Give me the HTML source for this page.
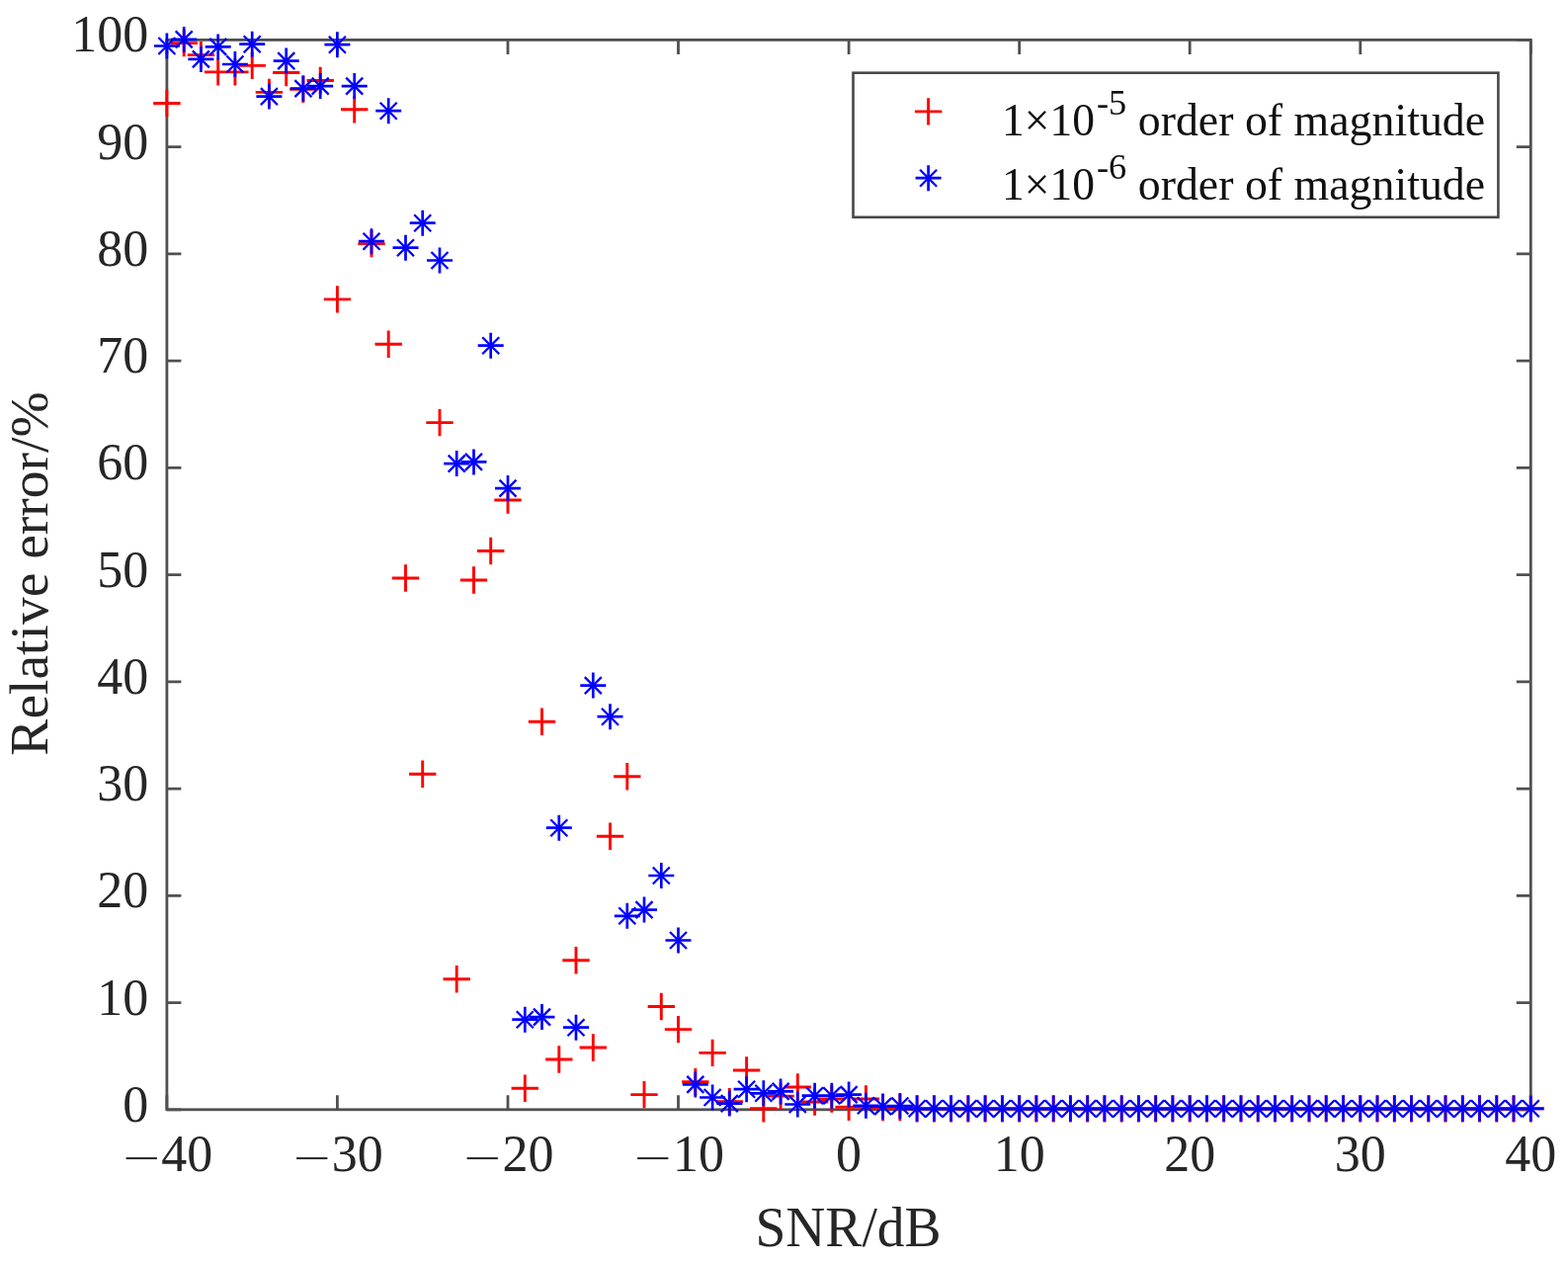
<!DOCTYPE html>
<html><head><meta charset="utf-8"><title>Relative error vs SNR</title>
<style>html,body{margin:0;padding:0;background:#fff;}svg{display:block;filter:blur(0.4px);}</style>
</head><body>
<svg width="1587" height="1277" viewBox="0 0 1587 1277">
<rect width="1587" height="1277" fill="#fff"/>
<path d="M168.9 1122.8V1108.3M168.9 40.4V54.9M341.4 1122.8V1108.3M341.4 40.4V54.9M514.0 1122.8V1108.3M514.0 40.4V54.9M686.5 1122.8V1108.3M686.5 40.4V54.9M859.1 1122.8V1108.3M859.1 40.4V54.9M1031.7 1122.8V1108.3M1031.7 40.4V54.9M1204.2 1122.8V1108.3M1204.2 40.4V54.9M1376.8 1122.8V1108.3M1376.8 40.4V54.9M1549.3 1122.8V1108.3M1549.3 40.4V54.9M168.9 1122.8H183.4M1549.3 1122.8H1534.8M168.9 1014.6H183.4M1549.3 1014.6H1534.8M168.9 906.3H183.4M1549.3 906.3H1534.8M168.9 798.1H183.4M1549.3 798.1H1534.8M168.9 689.8H183.4M1549.3 689.8H1534.8M168.9 581.6H183.4M1549.3 581.6H1534.8M168.9 473.4H183.4M1549.3 473.4H1534.8M168.9 365.1H183.4M1549.3 365.1H1534.8M168.9 256.9H183.4M1549.3 256.9H1534.8M168.9 148.6H183.4M1549.3 148.6H1534.8M168.9 40.4H183.4M1549.3 40.4H1534.8" stroke="#505050" stroke-width="2.8" fill="none"/>
<rect x="168.9" y="40.4" width="1380.4" height="1082.4" stroke="#505050" stroke-width="2.8" fill="none"/>
<g font-family="Liberation Serif, serif" font-size="52" fill="#262626"><text x="150.3" y="1134.8" text-anchor="end">0</text><text x="150.3" y="1026.6" text-anchor="end">10</text><text x="150.3" y="918.3" text-anchor="end">20</text><text x="150.3" y="810.1" text-anchor="end">30</text><text x="150.3" y="701.8" text-anchor="end">40</text><text x="150.3" y="593.6" text-anchor="end">50</text><text x="150.3" y="485.4" text-anchor="end">60</text><text x="150.3" y="377.1" text-anchor="end">70</text><text x="150.3" y="268.9" text-anchor="end">80</text><text x="150.3" y="160.6" text-anchor="end">90</text><text x="150.3" y="52.4" text-anchor="end">100</text><text x="168.9" y="1185" text-anchor="middle"><tspan font-family="DejaVu Sans, sans-serif" font-weight="200" font-size="50" dy="3.4">&#8722;</tspan><tspan dx="-1" dy="-3.4">40</tspan></text><text x="341.4" y="1185" text-anchor="middle"><tspan font-family="DejaVu Sans, sans-serif" font-weight="200" font-size="50" dy="3.4">&#8722;</tspan><tspan dx="-1" dy="-3.4">30</tspan></text><text x="514.0" y="1185" text-anchor="middle"><tspan font-family="DejaVu Sans, sans-serif" font-weight="200" font-size="50" dy="3.4">&#8722;</tspan><tspan dx="-1" dy="-3.4">20</tspan></text><text x="686.5" y="1185" text-anchor="middle"><tspan font-family="DejaVu Sans, sans-serif" font-weight="200" font-size="50" dy="3.4">&#8722;</tspan><tspan dx="-1" dy="-3.4">10</tspan></text><text x="859.1" y="1185" text-anchor="middle">0</text><text x="1031.7" y="1185" text-anchor="middle">10</text><text x="1204.2" y="1185" text-anchor="middle">20</text><text x="1376.8" y="1185" text-anchor="middle">30</text><text x="1549.3" y="1185" text-anchor="middle">40</text></g>
<text transform="translate(858.5 1260.8) scale(1 1.035)" text-anchor="middle" font-family="Liberation Serif, serif" font-size="55.5" fill="#262626">SNR/dB</text>
<text transform="translate(48.2 580.5) rotate(-90)" text-anchor="middle" font-family="Liberation Serif, serif" font-size="55.5" fill="#262626">Relative error/%</text>
<path d="M155.2 104.5H182.6M168.9 90.8V118.2M172.5 43.6H199.9M186.2 29.9V57.3M189.7 55.6H217.1M203.4 41.9V69.3M207.0 72.9H234.4M220.7 59.2V86.6M224.2 72.9H251.6M237.9 59.2V86.6M241.5 66.4H268.9M255.2 52.7V80.1M258.7 93.4H286.1M272.4 79.7V107.1M276.0 73.5H303.4M289.7 59.8V87.2M293.2 90.2H320.6M306.9 76.5V103.9M310.5 81.5H337.9M324.2 67.8V95.2M327.8 302.9H355.1M341.4 289.2V316.6M345.0 110.8H372.4M358.7 97.1V124.5M362.3 246.6H389.7M376.0 232.9V260.3M379.5 348.2H406.9M393.2 334.5V361.9M396.8 585.0H424.2M410.5 571.3V598.7M414.0 783.3H441.4M427.7 769.6V797.0M431.3 427.6H458.7M445.0 413.9V441.3M448.5 990.7H475.9M462.2 977.0V1004.4M465.8 587.0H493.2M479.5 573.3V600.7M483.0 557.5H510.4M496.7 543.8V571.2M500.3 506.0H527.7M514.0 492.3V519.7M517.6 1101.3H545.0M531.3 1087.6V1115.0M534.8 730.3H562.2M548.5 716.6V744.0M552.1 1072.0H579.5M565.8 1058.3V1085.7M569.3 971.7H596.7M583.0 958.0V985.4M586.6 1060.0H614.0M600.3 1046.3V1073.7M603.8 846.2H631.2M617.5 832.5V859.9M621.1 785.7H648.5M634.8 772.0V799.4M638.3 1107.6H665.7M652.0 1093.9V1121.3M655.6 1018.5H683.0M669.3 1004.8V1032.2M672.8 1041.6H700.2M686.5 1027.9V1055.3M690.1 1094.7H717.5M703.8 1081.0V1108.4M707.4 1065.4H734.8M721.1 1051.7V1079.1M724.6 1114.7H752.0M738.3 1101.0V1128.4M741.9 1083.0H769.3M755.6 1069.3V1096.7M759.1 1121.8H786.5M772.8 1108.1V1135.5M776.4 1109.1H803.8M790.1 1095.4V1122.8M793.6 1100.0H821.0M807.3 1086.3V1113.7M810.9 1115.0H838.3M824.6 1101.3V1128.7M828.1 1112.0H855.5M841.8 1098.3V1125.7M845.4 1120.3H872.8M859.1 1106.6V1134.0M862.7 1112.0H890.1M876.4 1098.3V1125.7M879.9 1120.6H907.3M893.6 1106.9V1134.3M897.2 1120.6H924.6M910.9 1106.9V1134.3M914.4 1121.7H941.8M928.1 1108.0V1135.4M931.7 1121.7H959.1M945.4 1108.0V1135.4M948.9 1121.7H976.3M962.6 1108.0V1135.4M966.2 1121.7H993.6M979.9 1108.0V1135.4M983.4 1121.7H1010.8M997.1 1108.0V1135.4M1000.7 1121.7H1028.1M1014.4 1108.0V1135.4M1018.0 1121.7H1045.4M1031.7 1108.0V1135.4M1035.2 1121.7H1062.6M1048.9 1108.0V1135.4M1052.5 1121.7H1079.9M1066.2 1108.0V1135.4M1069.7 1121.7H1097.1M1083.4 1108.0V1135.4M1087.0 1121.7H1114.4M1100.7 1108.0V1135.4M1104.2 1121.7H1131.6M1117.9 1108.0V1135.4M1121.5 1121.7H1148.9M1135.2 1108.0V1135.4M1138.7 1121.7H1166.1M1152.4 1108.0V1135.4M1156.0 1121.7H1183.4M1169.7 1108.0V1135.4M1173.2 1121.7H1200.6M1186.9 1108.0V1135.4M1190.5 1121.7H1217.9M1204.2 1108.0V1135.4M1207.8 1121.7H1235.2M1221.5 1108.0V1135.4M1225.0 1121.7H1252.4M1238.7 1108.0V1135.4M1242.3 1121.7H1269.7M1256.0 1108.0V1135.4M1259.5 1121.7H1286.9M1273.2 1108.0V1135.4M1276.8 1121.7H1304.2M1290.5 1108.0V1135.4M1294.0 1121.7H1321.4M1307.7 1108.0V1135.4M1311.3 1121.7H1338.7M1325.0 1108.0V1135.4M1328.5 1121.7H1355.9M1342.2 1108.0V1135.4M1345.8 1121.7H1373.2M1359.5 1108.0V1135.4M1363.0 1121.7H1390.5M1376.8 1108.0V1135.4M1380.3 1121.7H1407.7M1394.0 1108.0V1135.4M1397.6 1121.7H1425.0M1411.3 1108.0V1135.4M1414.8 1121.7H1442.2M1428.5 1108.0V1135.4M1432.1 1121.7H1459.5M1445.8 1108.0V1135.4M1449.3 1121.7H1476.7M1463.0 1108.0V1135.4M1466.6 1121.7H1494.0M1480.3 1108.0V1135.4M1483.8 1121.7H1511.2M1497.5 1108.0V1135.4M1501.1 1121.7H1528.5M1514.8 1108.0V1135.4M1518.3 1121.7H1545.7M1532.0 1108.0V1135.4M1535.6 1121.7H1563.0M1549.3 1108.0V1135.4" stroke="#ff0000" stroke-width="2.9" fill="none"/>
<path d="M155.9 46.5H181.9M168.9 33.5V59.5M173.2 39.9H199.2M186.2 26.9V52.9M190.4 59.9H216.4M203.4 46.9V72.9M207.7 47.4H233.7M220.7 34.4V60.4M224.9 65.0H250.9M237.9 52.0V78.0M242.2 44.7H268.2M255.2 31.7V57.7M259.4 97.6H285.4M272.4 84.6V110.6M276.7 61.6H302.7M289.7 48.6V74.6M293.9 89.6H319.9M306.9 76.6V102.6M311.2 87.1H337.2M324.2 74.1V100.1M328.4 45.2H354.4M341.4 32.2V58.2M345.7 87.1H371.7M358.7 74.1V100.1M363.0 244.2H389.0M376.0 231.2V257.2M380.2 112.2H406.2M393.2 99.2V125.2M397.5 250.7H423.5M410.5 237.7V263.7M414.7 225.7H440.7M427.7 212.7V238.7M432.0 263.5H458.0M445.0 250.5V276.5M449.2 469.1H475.2M462.2 456.1V482.1M466.5 467.4H492.5M479.5 454.4V480.4M483.7 349.7H509.7M496.7 336.7V362.7M501.0 494.1H527.0M514.0 481.1V507.1M518.3 1031.7H544.3M531.3 1018.7V1044.7M535.5 1029.1H561.5M548.5 1016.1V1042.1M552.8 837.7H578.8M565.8 824.7V850.7M570.0 1039.7H596.0M583.0 1026.7V1052.7M587.3 693.6H613.3M600.3 680.6V706.6M604.5 725.2H630.5M617.5 712.2V738.2M621.8 926.8H647.8M634.8 913.8V939.8M639.0 920.6H665.0M652.0 907.6V933.6M656.3 886.0H682.3M669.3 873.0V899.0M673.5 951.5H699.5M686.5 938.5V964.5M690.8 1097.4H716.8M703.8 1084.4V1110.4M708.1 1110.5H734.1M721.1 1097.5V1123.5M725.3 1116.6H751.3M738.3 1103.6V1129.6M742.6 1102.2H768.6M755.6 1089.2V1115.2M759.8 1106.3H785.8M772.8 1093.3V1119.3M777.1 1104.4H803.1M790.1 1091.4V1117.4M794.3 1117.5H820.3M807.3 1104.5V1130.5M811.6 1108.7H837.6M824.6 1095.7V1121.7M828.8 1108.7H854.8M841.8 1095.7V1121.7M846.1 1107.6H872.1M859.1 1094.6V1120.6M863.4 1118.8H889.4M876.4 1105.8V1131.8M880.6 1119.6H906.6M893.6 1106.6V1132.6M897.9 1119.0H923.9M910.9 1106.0V1132.0M915.1 1121.8H941.1M928.1 1108.8V1134.8M932.4 1121.8H958.4M945.4 1108.8V1134.8M949.6 1121.8H975.6M962.6 1108.8V1134.8M966.9 1121.8H992.9M979.9 1108.8V1134.8M984.1 1121.8H1010.1M997.1 1108.8V1134.8M1001.4 1121.8H1027.4M1014.4 1108.8V1134.8M1018.7 1121.8H1044.7M1031.7 1108.8V1134.8M1035.9 1121.8H1061.9M1048.9 1108.8V1134.8M1053.2 1121.8H1079.2M1066.2 1108.8V1134.8M1070.4 1121.8H1096.4M1083.4 1108.8V1134.8M1087.7 1121.8H1113.7M1100.7 1108.8V1134.8M1104.9 1121.8H1130.9M1117.9 1108.8V1134.8M1122.2 1121.8H1148.2M1135.2 1108.8V1134.8M1139.4 1121.8H1165.4M1152.4 1108.8V1134.8M1156.7 1121.8H1182.7M1169.7 1108.8V1134.8M1173.9 1121.8H1199.9M1186.9 1108.8V1134.8M1191.2 1121.8H1217.2M1204.2 1108.8V1134.8M1208.5 1121.8H1234.5M1221.5 1108.8V1134.8M1225.7 1121.8H1251.7M1238.7 1108.8V1134.8M1243.0 1121.8H1269.0M1256.0 1108.8V1134.8M1260.2 1121.8H1286.2M1273.2 1108.8V1134.8M1277.5 1121.8H1303.5M1290.5 1108.8V1134.8M1294.7 1121.8H1320.7M1307.7 1108.8V1134.8M1312.0 1121.8H1338.0M1325.0 1108.8V1134.8M1329.2 1121.8H1355.2M1342.2 1108.8V1134.8M1346.5 1121.8H1372.5M1359.5 1108.8V1134.8M1363.8 1121.8H1389.8M1376.8 1108.8V1134.8M1381.0 1121.8H1407.0M1394.0 1108.8V1134.8M1398.3 1121.8H1424.3M1411.3 1108.8V1134.8M1415.5 1121.8H1441.5M1428.5 1108.8V1134.8M1432.8 1121.8H1458.8M1445.8 1108.8V1134.8M1450.0 1121.8H1476.0M1463.0 1108.8V1134.8M1467.3 1121.8H1493.3M1480.3 1108.8V1134.8M1484.5 1121.8H1510.5M1497.5 1108.8V1134.8M1501.8 1121.8H1527.8M1514.8 1108.8V1134.8M1519.0 1121.8H1545.0M1532.0 1108.8V1134.8M1536.3 1121.8H1562.3M1549.3 1108.8V1134.8" stroke="#0000ff" stroke-width="2.7" fill="none"/>
<path d="M160.4 38.0L177.4 55.0M160.4 55.0L177.4 38.0M177.7 31.4L194.7 48.4M177.7 48.4L194.7 31.4M194.9 51.4L211.9 68.4M194.9 68.4L211.9 51.4M212.2 38.9L229.2 55.9M212.2 55.9L229.2 38.9M229.4 56.5L246.4 73.5M229.4 73.5L246.4 56.5M246.7 36.2L263.7 53.2M246.7 53.2L263.7 36.2M263.9 89.1L280.9 106.1M263.9 106.1L280.9 89.1M281.2 53.1L298.2 70.1M281.2 70.1L298.2 53.1M298.4 81.1L315.4 98.1M298.4 98.1L315.4 81.1M315.7 78.6L332.7 95.6M315.7 95.6L332.7 78.6M332.9 36.7L349.9 53.7M332.9 53.7L349.9 36.7M350.2 78.6L367.2 95.6M350.2 95.6L367.2 78.6M367.5 235.7L384.5 252.7M367.5 252.7L384.5 235.7M384.7 103.7L401.7 120.7M384.7 120.7L401.7 103.7M402.0 242.2L419.0 259.2M402.0 259.2L419.0 242.2M419.2 217.2L436.2 234.2M419.2 234.2L436.2 217.2M436.5 255.0L453.5 272.0M436.5 272.0L453.5 255.0M453.7 460.6L470.7 477.6M453.7 477.6L470.7 460.6M471.0 458.9L488.0 475.9M471.0 475.9L488.0 458.9M488.2 341.2L505.2 358.2M488.2 358.2L505.2 341.2M505.5 485.6L522.5 502.6M505.5 502.6L522.5 485.6M522.8 1023.2L539.8 1040.2M522.8 1040.2L539.8 1023.2M540.0 1020.6L557.0 1037.6M540.0 1037.6L557.0 1020.6M557.3 829.2L574.3 846.2M557.3 846.2L574.3 829.2M574.5 1031.2L591.5 1048.2M574.5 1048.2L591.5 1031.2M591.8 685.1L608.8 702.1M591.8 702.1L608.8 685.1M609.0 716.7L626.0 733.7M609.0 733.7L626.0 716.7M626.3 918.3L643.3 935.3M626.3 935.3L643.3 918.3M643.5 912.1L660.5 929.1M643.5 929.1L660.5 912.1M660.8 877.5L677.8 894.5M660.8 894.5L677.8 877.5M678.0 943.0L695.0 960.0M678.0 960.0L695.0 943.0M695.3 1088.9L712.3 1105.9M695.3 1105.9L712.3 1088.9M712.6 1102.0L729.6 1119.0M712.6 1119.0L729.6 1102.0M729.8 1108.1L746.8 1125.1M729.8 1125.1L746.8 1108.1M747.1 1093.7L764.1 1110.7M747.1 1110.7L764.1 1093.7M764.3 1097.8L781.3 1114.8M764.3 1114.8L781.3 1097.8M781.6 1095.9L798.6 1112.9M781.6 1112.9L798.6 1095.9M798.8 1109.0L815.8 1126.0M798.8 1126.0L815.8 1109.0M816.1 1100.2L833.1 1117.2M816.1 1117.2L833.1 1100.2M833.3 1100.2L850.3 1117.2M833.3 1117.2L850.3 1100.2M850.6 1099.1L867.6 1116.1M850.6 1116.1L867.6 1099.1M867.9 1110.3L884.9 1127.3M867.9 1127.3L884.9 1110.3M885.1 1111.1L902.1 1128.1M885.1 1128.1L902.1 1111.1M902.4 1110.5L919.4 1127.5M902.4 1127.5L919.4 1110.5M919.6 1113.3L936.6 1130.3M919.6 1130.3L936.6 1113.3M936.9 1113.3L953.9 1130.3M936.9 1130.3L953.9 1113.3M954.1 1113.3L971.1 1130.3M954.1 1130.3L971.1 1113.3M971.4 1113.3L988.4 1130.3M971.4 1130.3L988.4 1113.3M988.6 1113.3L1005.6 1130.3M988.6 1130.3L1005.6 1113.3M1005.9 1113.3L1022.9 1130.3M1005.9 1130.3L1022.9 1113.3M1023.2 1113.3L1040.2 1130.3M1023.2 1130.3L1040.2 1113.3M1040.4 1113.3L1057.4 1130.3M1040.4 1130.3L1057.4 1113.3M1057.7 1113.3L1074.7 1130.3M1057.7 1130.3L1074.7 1113.3M1074.9 1113.3L1091.9 1130.3M1074.9 1130.3L1091.9 1113.3M1092.2 1113.3L1109.2 1130.3M1092.2 1130.3L1109.2 1113.3M1109.4 1113.3L1126.4 1130.3M1109.4 1130.3L1126.4 1113.3M1126.7 1113.3L1143.7 1130.3M1126.7 1130.3L1143.7 1113.3M1143.9 1113.3L1160.9 1130.3M1143.9 1130.3L1160.9 1113.3M1161.2 1113.3L1178.2 1130.3M1161.2 1130.3L1178.2 1113.3M1178.4 1113.3L1195.4 1130.3M1178.4 1130.3L1195.4 1113.3M1195.7 1113.3L1212.7 1130.3M1195.7 1130.3L1212.7 1113.3M1213.0 1113.3L1230.0 1130.3M1213.0 1130.3L1230.0 1113.3M1230.2 1113.3L1247.2 1130.3M1230.2 1130.3L1247.2 1113.3M1247.5 1113.3L1264.5 1130.3M1247.5 1130.3L1264.5 1113.3M1264.7 1113.3L1281.7 1130.3M1264.7 1130.3L1281.7 1113.3M1282.0 1113.3L1299.0 1130.3M1282.0 1130.3L1299.0 1113.3M1299.2 1113.3L1316.2 1130.3M1299.2 1130.3L1316.2 1113.3M1316.5 1113.3L1333.5 1130.3M1316.5 1130.3L1333.5 1113.3M1333.7 1113.3L1350.7 1130.3M1333.7 1130.3L1350.7 1113.3M1351.0 1113.3L1368.0 1130.3M1351.0 1130.3L1368.0 1113.3M1368.2 1113.3L1385.2 1130.3M1368.2 1130.3L1385.2 1113.3M1385.5 1113.3L1402.5 1130.3M1385.5 1130.3L1402.5 1113.3M1402.8 1113.3L1419.8 1130.3M1402.8 1130.3L1419.8 1113.3M1420.0 1113.3L1437.0 1130.3M1420.0 1130.3L1437.0 1113.3M1437.3 1113.3L1454.3 1130.3M1437.3 1130.3L1454.3 1113.3M1454.5 1113.3L1471.5 1130.3M1454.5 1130.3L1471.5 1113.3M1471.8 1113.3L1488.8 1130.3M1471.8 1130.3L1488.8 1113.3M1489.0 1113.3L1506.0 1130.3M1489.0 1130.3L1506.0 1113.3M1506.3 1113.3L1523.3 1130.3M1506.3 1130.3L1523.3 1113.3M1523.5 1113.3L1540.5 1130.3M1523.5 1130.3L1540.5 1113.3M1540.8 1113.3L1557.8 1130.3M1540.8 1130.3L1557.8 1113.3" stroke="#0000ff" stroke-width="2.3" fill="none"/>
<rect x="863.5" y="73.7" width="652.9" height="146.1" stroke="#474747" stroke-width="2.6" fill="#fff"/>
<path d="M925.9 112.9H953.3M939.6 99.2V126.6" stroke="#ff0000" stroke-width="2.9" fill="none"/>
<path d="M926.6 180.2H952.6M939.6 167.2V193.2" stroke="#0000ff" stroke-width="2.7" fill="none"/>
<path d="M931.1 171.7L948.1 188.7M931.1 188.7L948.1 171.7" stroke="#0000ff" stroke-width="2.3" fill="none"/>
<text x="1014" y="136.5" font-family="Liberation Serif, serif" font-size="45.5" fill="#111">1×10<tspan font-size="36.3" dx="2.1" dy="-21">-5</tspan><tspan font-size="45.85" dy="21"> order of magnitude</tspan></text>
<text x="1014" y="202" font-family="Liberation Serif, serif" font-size="45.5" fill="#111">1×10<tspan font-size="36.3" dx="2.1" dy="-21">-6</tspan><tspan font-size="45.85" dy="21"> order of magnitude</tspan></text>
</svg>
</body></html>
